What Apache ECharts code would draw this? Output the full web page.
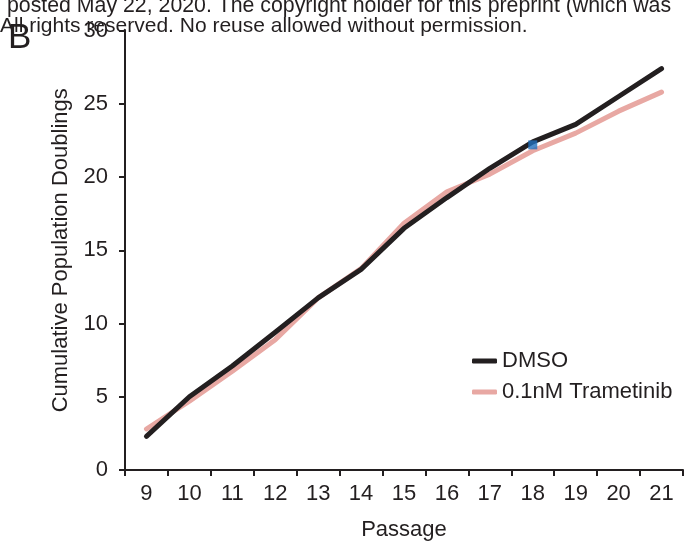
<!DOCTYPE html>
<html>
<head>
<meta charset="utf-8">
<script src="https://cdn.jsdelivr.net/npm/echarts@6/dist/echarts.min.js"></script>
<style>html,body{margin:0;padding:0;background:#fff;}#c{width:688px;height:546px;}</style>
</head>
<body>
<div id="c"></div>
<script>
const passages = ['9','10','11','12','13','14','15','16','17','18','19','20','21'];
const dmso = [2.3, 5.0, 7.1, 9.4, 11.75, 13.7, 16.5, 18.6, 20.6, 22.4, 23.6, 25.5, 27.4];
const trametinib = [2.8, 4.7, 6.75, 8.9, 11.75, 13.75, 16.85, 19.0, 20.2, 21.8, 23.0, 24.5, 25.8];
const marker = [['18', 22.2]];
const yTicks = [0, 5, 10, 15, 20, 25, 30];
const headerLines = ['posted May 22, 2020. The copyright holder for this preprint (which was', 'All rights reserved. No reuse allowed without permission.'];
const panelLetter = 'B';

const FONT = '"Liberation Sans", Arial, Helvetica, sans-serif';
const chart = echarts.init(document.getElementById('c'), null, {renderer: 'canvas'});
chart.setOption({
  animation: false,
  backgroundColor: '#ffffff',
  textStyle: {fontFamily: FONT},
  grid: {left: 125, right: 5, top: 30.6, bottom: 75.3, containLabel: false},
  graphic: [
    {type: 'text', left: 7, top: -4, z: 100, style: {text: headerLines[0], font: '21.3px ' + FONT, fill: '#231f20'}},
    {type: 'text', left: 0, top: 16, z: 100, style: {text: headerLines[1], font: '21px ' + FONT, fill: '#231f20'}},
    {type: 'text', left: 8, top: 21, z: 100, style: {text: panelLetter, font: '35px ' + FONT, fill: '#231f20'}}
  ],
  legend: {
    orient: 'vertical', left: 467, top: 345, itemGap: 9, itemWidth: 25, itemHeight: 5,
    icon: 'roundRect',
    textStyle: {fontSize: 22, color: '#231f20', fontFamily: FONT},
    data: ['DMSO', '0.1nM Trametinib']
  },
  xAxis: {
    type: 'category', data: passages, boundaryGap: true,
    name: 'Passage', nameLocation: 'middle', nameGap: 49,
    nameTextStyle: {fontSize: 22, color: '#231f20', fontFamily: FONT},
    axisLine: {lineStyle: {color: '#231f20', width: 2}},
    axisTick: {show: true, length: 6, lineStyle: {color: '#231f20', width: 2}},
    axisLabel: {fontSize: 22, color: '#231f20', margin: 13, fontFamily: FONT, interval: 0},
    splitLine: {show: false}
  },
  yAxis: {
    type: 'value', min: yTicks[0], max: yTicks[yTicks.length-1], interval: 5,
    name: 'Cumulative Population Doublings', nameLocation: 'middle', nameGap: 53,
    nameTextStyle: {fontSize: 22, color: '#231f20', fontFamily: FONT},
    axisLine: {show: true, lineStyle: {color: '#231f20', width: 2}},
    axisTick: {show: true, length: 6, lineStyle: {color: '#231f20', width: 2}},
    axisLabel: {fontSize: 22, color: '#231f20', margin: 17, fontFamily: FONT},
    splitLine: {show: false}
  },
  series: [
    {name: '0.1nM Trametinib', type: 'line', data: trametinib, showSymbol: false, symbol: 'none',
     color: '#e8a8a3', lineStyle: {width: 5, color: '#e8a8a3', cap: 'round', join: 'round'}, z: 2},
    {name: 'DMSO', type: 'line', data: dmso, showSymbol: false, symbol: 'none',
     color: '#231f20', lineStyle: {width: 5, color: '#231f20', cap: 'round', join: 'round'}, z: 3},
    {name: 'marker', type: 'scatter', data: marker, symbol: 'rect', symbolSize: 9,
     itemStyle: {color: '#1f6fbd'}, z: 4}
  ]
});
</script>
</body>
</html>
